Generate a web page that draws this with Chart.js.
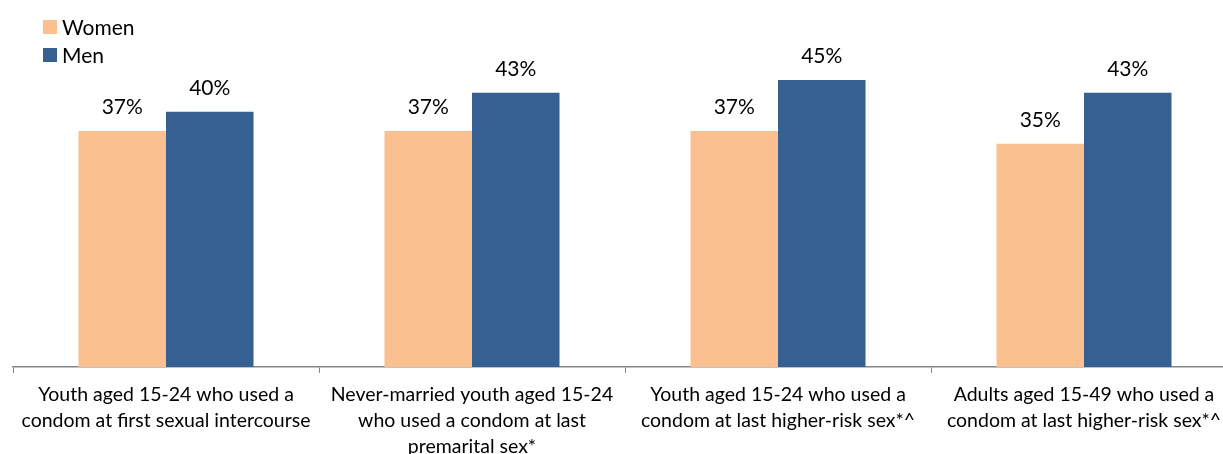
<!DOCTYPE html>
<html>
<head>
<meta charset="utf-8">
<script src="https://cdn.jsdelivr.net/npm/chart.js@4/dist/chart.umd.min.js"></script>
<style>
  html, body { margin: 0; padding: 0; background: #fff; overflow: hidden; }
  #wrap { width: 1223px; height: 454px; overflow: hidden; position: relative; }
  #box { position: absolute; left: 0; top: 0; width: 1250px; height: 454px; }
</style>
</head>
<body>
<div id="wrap"><div id="box"><canvas id="chart"></canvas></div></div>
<script>
var categories = [
  ['Youth aged 15-24 who used a', 'condom at first sexual intercourse'],
  ['Never-married youth aged 15-24', 'who used a condom at last', 'premarital sex*'],
  ['Youth aged 15-24 who used a', 'condom at last higher-risk sex*^'],
  ['Adults aged 15-49 who used a', 'condom at last higher-risk sex*^']
];
var women = [37, 37, 37, 35];
var men = [40, 43, 45, 43];

var FONT = 'Lato, "Open Sans", sans-serif';

// value labels above each bar
var valueLabels = {
  id: 'valueLabels',
  afterDatasetsDraw: function(chart) {
    var ctx = chart.ctx;
    ctx.save();
    ctx.font = '21px ' + FONT;
    ctx.fillStyle = '#000';
    ctx.textAlign = 'center';
    ctx.textBaseline = 'alphabetic';
    chart.data.datasets.forEach(function(ds, i) {
      chart.getDatasetMeta(i).data.forEach(function(bar, j) {
        ctx.fillText(ds.data[j] + '%', bar.x, bar.y - 17);
      });
    });
    ctx.restore();
  }
};

// stacked legend in the top left corner
var stackedLegend = {
  id: 'stackedLegend',
  afterDraw: function(chart) {
    var ctx = chart.ctx;
    ctx.save();
    ctx.font = '21px ' + FONT;
    ctx.textBaseline = 'middle';
    chart.data.datasets.forEach(function(ds, i) {
      var y = 27 + i * 28;
      ctx.fillStyle = ds.backgroundColor;
      ctx.fillRect(43, y - 7, 14, 14);
      ctx.fillStyle = '#000';
      ctx.fillText(ds.label, 62, y + 1);
    });
    ctx.restore();
  }
};

new Chart(document.getElementById('chart'), {
  type: 'bar',
  data: {
    labels: categories,
    datasets: [
      { label: 'Women', data: women, backgroundColor: '#FAC090' },
      { label: 'Men', data: men, backgroundColor: '#376092' }
    ]
  },
  options: {
    responsive: true,
    maintainAspectRatio: false,
    animation: false,
    layout: { padding: { left: 13, right: 13, top: 48, bottom: 0 } },
    plugins: {
      legend: { display: false },
      tooltip: { enabled: false }
    },
    datasets: {
      bar: { categoryPercentage: 0.572, barPercentage: 1.0 }
    },
    scales: {
      x: {
        grid: {
          offset: true,
          drawOnChartArea: false,
          drawTicks: true,
          tickLength: 6,
          color: '#868686'
        },
        border: { display: true, color: '#868686', width: 1.5 },
        ticks: {
          font: { family: FONT, size: 19.5, lineHeight: 1.32 },
          color: '#000',
          padding: 9,
          maxRotation: 0,
          autoSkip: false
        },
        afterFit: function(scale) { scale.height = 87; }
      },
      y: {
        display: false,
        min: 0,
        max: 50
      }
    }
  },
  plugins: [valueLabels, stackedLegend]
});
</script>
</body>
</html>
